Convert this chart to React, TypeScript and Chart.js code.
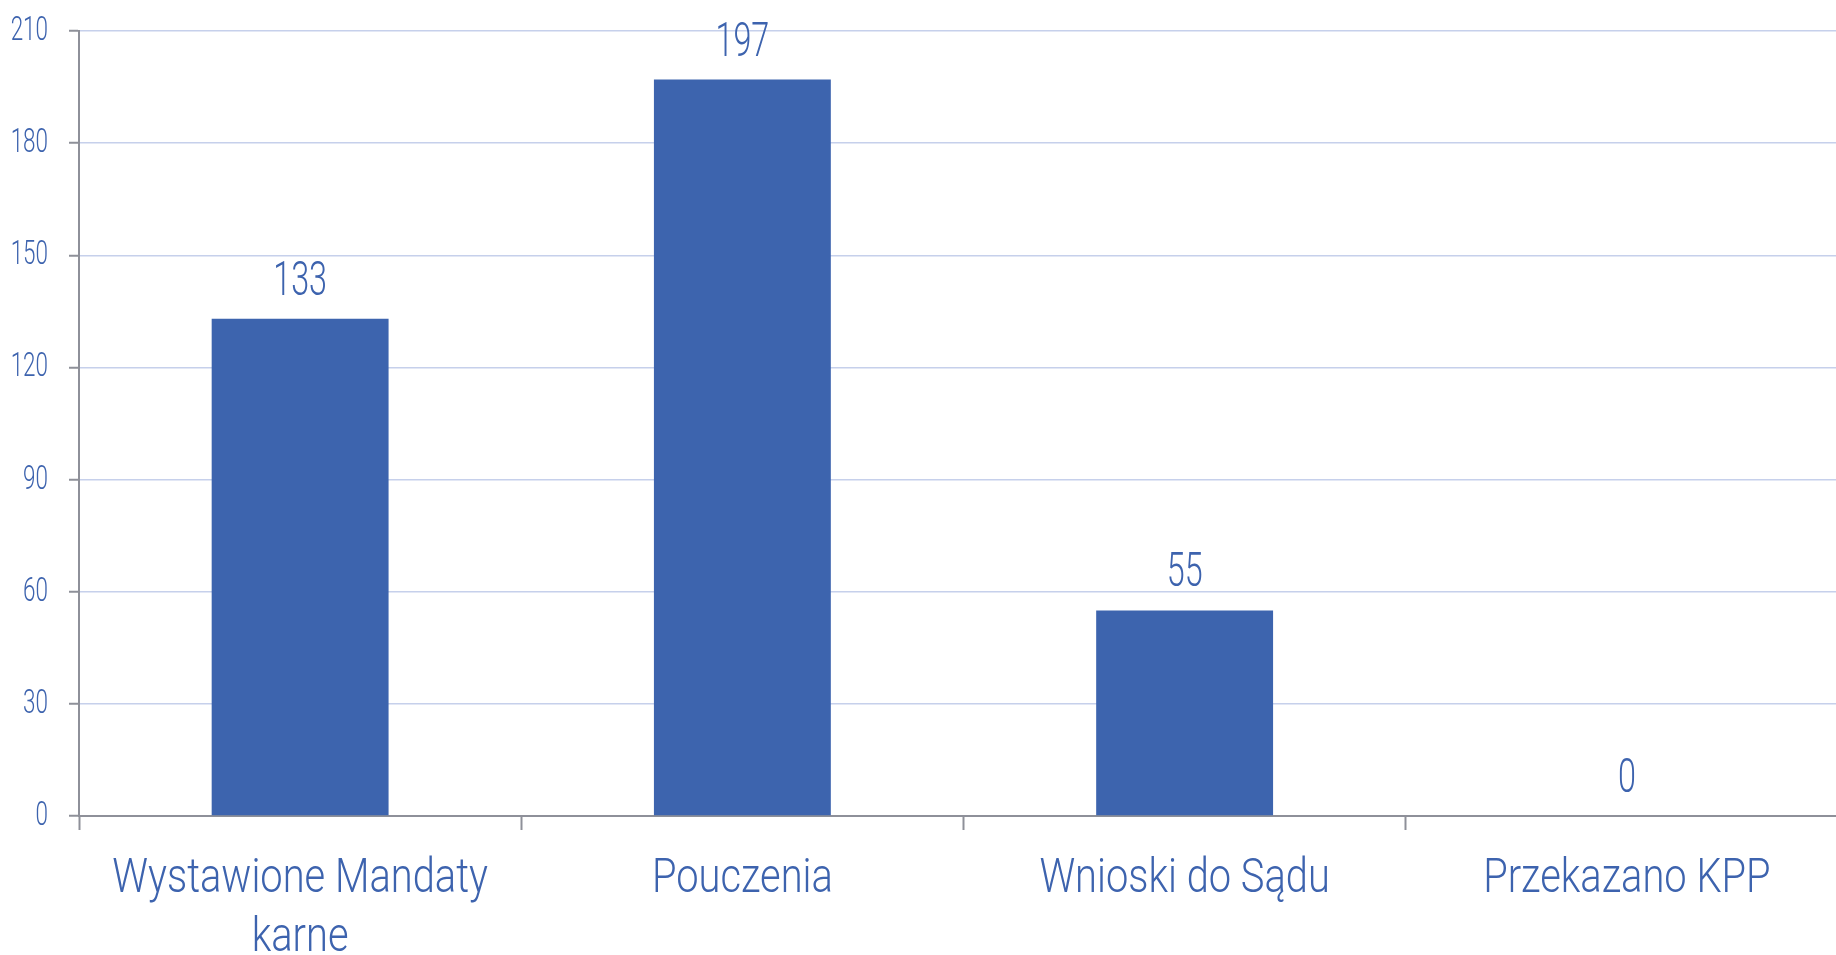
import React, { useEffect, useRef } from "react";
import { Chart, registerables } from "chart.js";

Chart.register(...registerables);

const categories: string[][] = [
  ["Wystawione Mandaty", "karne"],
  ["Pouczenia"],
  ["Wnioski do Sądu"],
  ["Przekazano KPP"],
];
const values: number[] = [133, 197, 55, 0];
const yTicks: number[] = [0, 30, 60, 90, 120, 150, 180, 210];

const BLUE = "#3D64AE";
const TEXT = "#3D63AE";
const GRID = "#C6D0EB";
const AXIS = "#8E9099";
const FONT = "Roboto, 'Liberation Sans', 'DejaVu Sans', sans-serif";

function drawNarrow(ctx: CanvasRenderingContext2D, text: string, x: number, y: number, sx: number, align: CanvasTextAlign) {
  ctx.save();
  ctx.translate(x, y);
  ctx.scale(sx, 1);
  ctx.textAlign = align;
  ctx.textBaseline = "alphabetic";
  ctx.fillText(text, 0, 0);
  ctx.restore();
}

const textPlugin = {
  id: "textPlugin",
  afterDraw(chart: any) {
    const ctx: CanvasRenderingContext2D = chart.ctx;
    const ys = chart.scales.y;
    const xs = chart.scales.x;
    ctx.save();
    ctx.fillStyle = TEXT;

    // y tick labels
    ctx.font = `300 34px ${FONT}`;
    ys.ticks.forEach((t: any) => {
      const py = ys.getPixelForValue(t.value);
      drawNarrow(ctx, String(t.value), ys.right - 31, py + 9, 0.66, "right");
    });

    // x category labels
    ctx.font = `300 48px ${FONT}`;
    const axisY = xs.top;
    categories.forEach((lines, i) => {
      const px = xs.getPixelForTick(i);
      lines.forEach((line, j) => {
        drawNarrow(ctx, line, px, axisY + 76 + j * 59, 0.83, "center");
      });
    });

    // value labels
    ctx.font = `300 49px ${FONT}`;
    const meta = chart.getDatasetMeta(0);
    meta.data.forEach((bar: any, i: number) => {
      drawNarrow(ctx, String(values[i]), bar.x, bar.y - 24, 0.66, "center");
    });
    ctx.restore();
  },
};

export default function App() {
  const ref = useRef<HTMLCanvasElement>(null);
  useEffect(() => {
    document.body.style.margin = "0";
    document.body.style.overflow = "hidden";
    const chart = new Chart(ref.current!, {
      type: "bar",
      data: {
        labels: categories.map((c) => c.join(" ")),
        datasets: [
          {
            data: values,
            backgroundColor: BLUE,
            barPercentage: 0.4,
            categoryPercentage: 1,
          },
        ],
      },
      options: {
        responsive: false,
        animation: false,
        devicePixelRatio: 1,
        layout: { padding: { top: 31, right: 0, left: 0, bottom: 0 } },
        plugins: { legend: { display: false }, tooltip: { enabled: false } },
        scales: {
          x: {
            afterFit: (s: any) => {
              s.height = 139;
            },
            grid: {
              drawOnChartArea: false,
              drawTicks: true,
              tickLength: 14,
              tickColor: AXIS,
              tickWidth: 2,
              offset: true,
            },
            border: { color: AXIS, width: 2 },
            ticks: { display: false, autoSkip: false },
          },
          y: {
            min: 0,
            max: 210,
            afterFit: (s: any) => {
              s.width = 79;
            },
            afterBuildTicks: (s: any) => {
              s.ticks = yTicks.map((v) => ({ value: v }));
            },
            grid: {
              color: GRID,
              lineWidth: 1.5,
              tickColor: AXIS,
              tickLength: 10,
              tickWidth: 2,
            },
            border: { color: AXIS, width: 2 },
            ticks: { display: false },
          },
        },
      },
      plugins: [textPlugin],
    });
    return () => chart.destroy();
  }, []);
  return (
    <div
      style={{
        position: "fixed",
        left: 0,
        top: 0,
        width: 1836,
        height: 955,
        overflow: "hidden",
        background: "#fff",
      }}
    >
      <canvas ref={ref} width={1848} height={955} style={{ display: "block" }} />
    </div>
  );
}
